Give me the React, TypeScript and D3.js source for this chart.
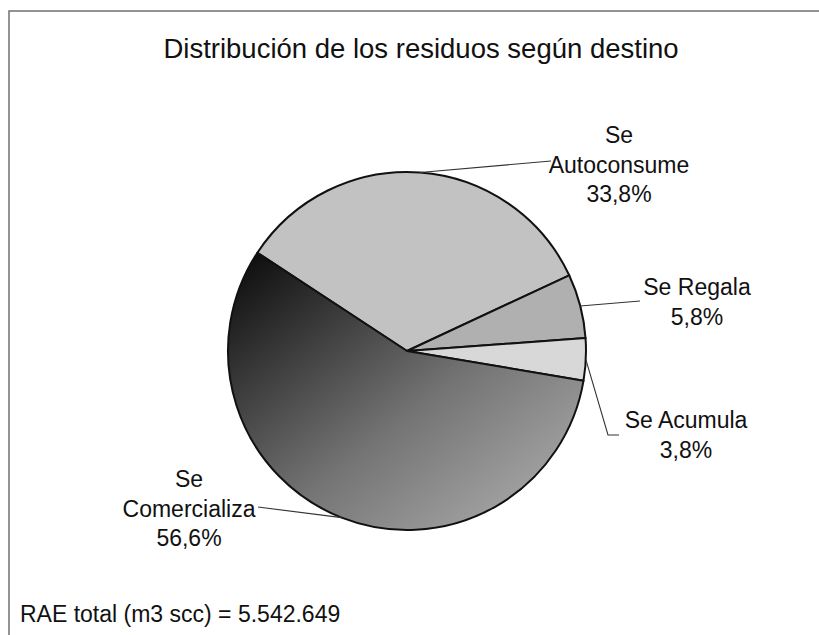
import React from "react";
import * as d3 from "d3";

const categories = ["Se Autoconsume", "Se Regala", "Se Acumula", "Se Comercializa"];
const values = [33.8, 5.8, 3.8, 56.6];
const labelLines = [
  ["Se", "Autoconsume", "33,8%"],
  ["Se Regala", "5,8%"],
  ["Se Acumula", "3,8%"],
  ["Se", "Comercializa", "56,6%"],
];
const title = "Distribución de los residuos según destino";
const footnote = "RAE total (m3 scc) = 5.542.649";

const W = 819;
const H = 635;
const cx = 407;
const cy = 351;
const R = 179;
const startDeg = -56.7;
const fills = ["#c2c2c2", "#b0b0b0", "#d8d8d8", "url(#comGrad)"];
// label layout: center x, first baseline, leader path points (label side)
const labelLayout = [
  { x: 619, y: 143, lead: [[551, 161]] },
  { x: 697, y: 295, lead: [[640, 301]] },
  { x: 686, y: 428, lead: [[608, 435], [619, 435]] },
  { x: 189, y: 487, lead: [[258, 507]] },
];
const lineGap = 29.5;

export default function App() {
  const pie = d3
    .pie<number>()
    .sort(null)
    .startAngle((startDeg * Math.PI) / 180)
    .endAngle((startDeg * Math.PI) / 180 + 2 * Math.PI);
  const arcs = pie(values);
  const arc = d3.arc<d3.PieArcDatum<number>>().innerRadius(0).outerRadius(R);
  const line = d3.line();

  return (
    <svg
      width={W}
      height={H}
      style={{ position: "absolute", left: 0, top: 0, background: "#fff" }}
      fontFamily="'Liberation Sans', Arial, sans-serif"
    >
      <defs>
        <linearGradient id="comGrad" gradientUnits="userSpaceOnUse" x1={-160} y1={-120} x2={70} y2={180}>
          <stop offset="0" stopColor="#050505" />
          <stop offset="0.3" stopColor="#383838" />
          <stop offset="0.65" stopColor="#747474" />
          <stop offset="1" stopColor="#a0a0a0" />
        </linearGradient>
      </defs>
      <rect x={0} y={0} width={W} height={H} fill="#fff" />
      <path d={`M${W},11 L9,11 L9,${H}`} fill="none" stroke="#707070" strokeWidth={1.5} />
      <text x={421} y={58} textAnchor="middle" fontSize={27.5} fill="#111">
        {title}
      </text>
      <g transform={`translate(${cx},${cy})`}>
        {arcs.map((a, i) => (
          <path key={categories[i]} d={arc(a) || ""} fill={fills[i]} stroke="#111" strokeWidth={2} strokeLinejoin="round" />
        ))}
      </g>
      {arcs.map((a, i) => {
        const mid = (a.startAngle + a.endAngle) / 2;
        const ex = cx + R * Math.sin(mid);
        const ey = cy - R * Math.cos(mid);
        const pts: [number, number][] = [[ex, ey], ...(labelLayout[i].lead as [number, number][])];
        return <path key={"l" + i} d={line(pts) || ""} fill="none" stroke="#333" strokeWidth={1.1} />;
      })}
      {labelLines.map((lines, i) => (
        <text key={"t" + i} x={labelLayout[i].x} y={labelLayout[i].y} textAnchor="middle" fontSize={23} fill="#111">
          {lines.map((s, j) => (
            <tspan key={j} x={labelLayout[i].x} y={labelLayout[i].y + j * lineGap}>
              {s}
            </tspan>
          ))}
        </text>
      ))}
      <text x={20} y={622} fontSize={23} fill="#111">
        {footnote}
      </text>
    </svg>
  );
}
